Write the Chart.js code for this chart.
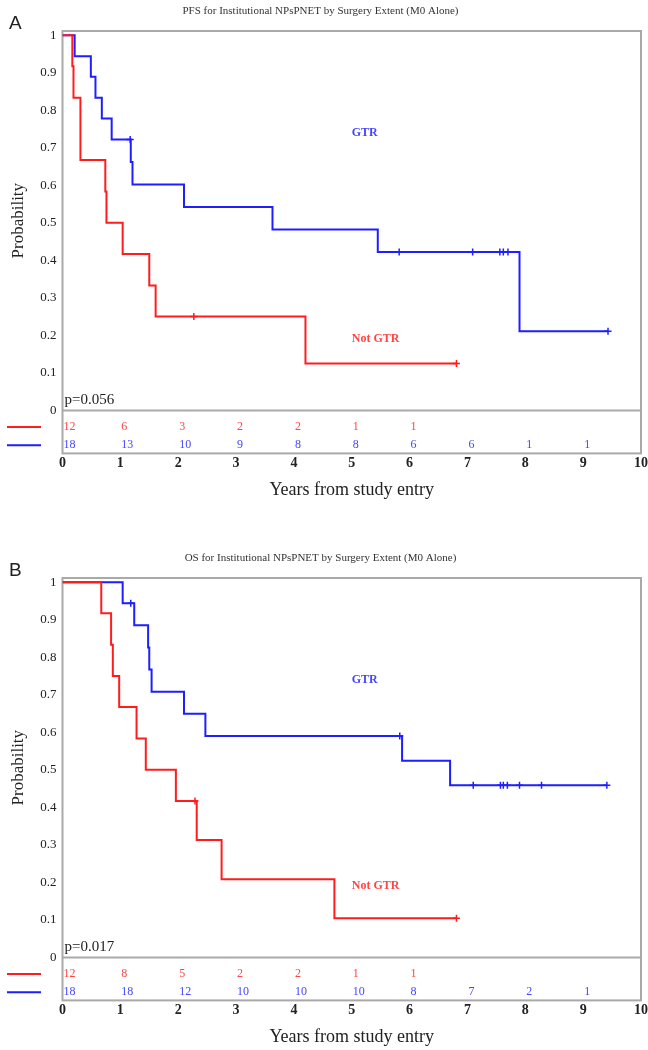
<!DOCTYPE html>
<html><head><meta charset="utf-8">
<script src="https://cdn.jsdelivr.net/npm/chart.js@4/dist/chart.umd.min.js"></script>
<style>
html,body{margin:0;padding:0;background:#fff;}
body{width:648px;height:1050px;position:relative;overflow:hidden;}
.panel{position:absolute;left:0;width:648px;height:502px;}
</style></head><body>
<div class="panel" style="top:0px"><canvas id="cA" width="648" height="502"></canvas></div>
<div class="panel" style="top:547px"><canvas id="cB" width="648" height="502"></canvas></div>
<script>
// ---------- shared axis values ----------
const xTickValues = [0,1,2,3,4,5,6,7,8,9,10];
const yTickValues = [0,0.1,0.2,0.3,0.4,0.5,0.6,0.7,0.8,0.9,1];
const yTickLabels = ['0','0.1','0.2','0.3','0.4','0.5','0.6','0.7','0.8','0.9','1'];
const riskTimes = [0,1,2,3,4,5,6,7,8,9];
const groupNames = ['Not GTR','GTR'];

// ---------- Panel A: PFS ----------
const pfsTitle = 'PFS for Institutional NPsPNET by Surgery Extent (M0 Alone)';
const pfsPValue = 'p=0.056';
const pfsNotGtrTimes  = [0, 0.17, 0.19, 0.31, 0.74, 0.76, 1.04, 1.50, 1.61, 4.20];
const pfsNotGtrSurv   = [1, 0.917, 0.833, 0.667, 0.583, 0.500, 0.417, 0.333, 0.250, 0.125];
const pfsNotGtrCensor = [2.27, 6.81];
const pfsNotGtrEnd = 6.81;
const pfsGtrTimes  = [0, 0.21, 0.49, 0.57, 0.68, 0.85, 1.18, 1.21, 2.10, 3.63, 5.45, 7.90];
const pfsGtrSurv   = [1, 0.944, 0.889, 0.833, 0.778, 0.722, 0.662, 0.602, 0.542, 0.482, 0.422, 0.211];
const pfsGtrCensor = [1.17, 5.82, 7.09, 7.56, 7.62, 7.70, 9.43];
const pfsGtrEnd = 9.43;
const pfsNotGtrRisk = [12,6,3,2,2,1,1];
const pfsGtrRisk    = [18,13,10,9,8,8,6,6,1,1];

// ---------- Panel B: OS ----------
const osTitle = 'OS for Institutional NPsPNET by Surgery Extent (M0 Alone)';
const osPValue = 'p=0.017';
const osNotGtrTimes  = [0, 0.67, 0.84, 0.87, 0.98, 1.28, 1.44, 1.96, 2.32, 2.75, 4.70];
const osNotGtrSurv   = [1, 0.917, 0.833, 0.750, 0.667, 0.583, 0.500, 0.417, 0.313, 0.208, 0.104];
const osNotGtrCensor = [2.29, 6.81];
const osNotGtrEnd = 6.81;
const osGtrTimes  = [0, 1.04, 1.24, 1.48, 1.50, 1.54, 2.10, 2.47, 5.87, 6.70];
const osGtrSurv   = [1, 0.944, 0.885, 0.826, 0.767, 0.708, 0.649, 0.590, 0.524, 0.459];
const osGtrCensor = [1.18, 5.83, 7.10, 7.57, 7.62, 7.69, 7.90, 8.28, 9.41];
const osGtrEnd = 9.41;
const osNotGtrRisk = [12,8,5,2,2,1,1];
const osGtrRisk    = [18,18,12,10,10,10,8,7,2,1];

// ---------- styling ----------
const RED = 'rgb(255,28,28)';
const BLUE = 'rgb(30,30,255)';
const RED_TXT = 'rgb(255,70,70)';
const BLUE_TXT = 'rgb(70,70,255)';
const SERIF = "'Liberation Serif','Times New Roman',serif";
const SANS = "'Liberation Sans',Arial,sans-serif";
const BOX = '#a9a9a9';

function stepPoints(times, surv, end){
  const pts = times.map((t,i)=>({x:t, y:surv[i]}));
  pts.push({x:end, y:surv[surv.length-1]});
  return pts;
}
function survAt(times, surv, t){
  let s = surv[0];
  for(let i=0;i<times.length;i++){ if(times[i] <= t) s = surv[i]; }
  return s;
}
function censorPoints(times, surv, cens){
  return cens.map(t=>({x:t, y:survAt(times, surv, t)}));
}

const decoPlugin = {
  id: 'kmDeco',
  beforeDatasetsDraw(chart, args, o){
    const {ctx, chartArea:a} = chart;
    const tb = a.bottom + o.tableHeight;
    ctx.save();
    ctx.strokeStyle = BOX; ctx.lineWidth = 2;
    ctx.strokeRect(a.left, a.top, a.right-a.left, tb-a.top);
    ctx.beginPath(); ctx.moveTo(a.left, a.bottom); ctx.lineTo(a.right, a.bottom); ctx.stroke();
    ctx.restore();
  },
  afterDraw(chart, args, o){
    const {ctx, chartArea:a, scales:{x, y}} = chart;
    ctx.save();
    // panel letter
    ctx.fillStyle = '#222';
    ctx.font = '19px ' + SANS;
    ctx.textAlign = 'left'; ctx.textBaseline = 'alphabetic';
    ctx.fillText(o.letter, 9, 29);
    // p value
    ctx.font = '15px ' + SERIF;
    ctx.fillStyle = '#222';
    ctx.fillText(o.pText, a.left + 2, a.bottom - 6);
    // group labels
    ctx.font = 'bold 12px ' + SERIF;
    ctx.textBaseline = 'middle';
    o.labels.forEach(l=>{
      ctx.fillStyle = l.color;
      ctx.fillText(l.text, x.getPixelForValue(l.x), y.getPixelForValue(l.y));
    });
    // risk table
    ctx.font = '12px ' + SERIF;
    o.risk.forEach((r, ri)=>{
      const yy = a.bottom + o.rowOffsets[ri];
      ctx.fillStyle = r.txt;
      r.values.forEach((v,i)=>{
        ctx.fillText(String(v), x.getPixelForValue(riskTimes[i]) + 1, yy);
      });
      ctx.strokeStyle = r.color; ctx.lineWidth = 2;
      ctx.beginPath(); ctx.moveTo(7, yy); ctx.lineTo(41, yy); ctx.stroke();
    });
    ctx.restore();
  }
};

function makeChart(id, cfg){
  const ds = [
    {data: stepPoints(cfg.rT, cfg.rS, cfg.rEnd), borderColor: RED, borderWidth: 2, stepped: true, pointRadius: 0, fill: false},
    {data: stepPoints(cfg.bT, cfg.bS, cfg.bEnd), borderColor: BLUE, borderWidth: 2, stepped: true, pointRadius: 0, fill: false},
    {data: censorPoints(cfg.rT, cfg.rS, cfg.rC), showLine: false, pointStyle: 'cross', pointRadius: 3.5, pointBorderWidth: 1.5, pointBorderColor: RED, borderColor: RED},
    {data: censorPoints(cfg.bT, cfg.bS, cfg.bC), showLine: false, pointStyle: 'cross', pointRadius: 3.5, pointBorderWidth: 1.5, pointBorderColor: BLUE, borderColor: BLUE}
  ];
  return new Chart(document.getElementById(id), {
    type: 'line',
    data: {datasets: ds},
    plugins: [decoPlugin],
    options: {
      responsive: false, animation: false, devicePixelRatio: 1,
      layout: {padding: {left: 0, right: 7, top: 0, bottom: 0}},
      plugins: {
        legend: {display: false}, tooltip: {enabled: false},
        title: {display: true, text: cfg.title, color: '#333',
                font: {family: SERIF, size: 11, weight: 'normal'},
                padding: {top: 5, bottom: 12.8}},
        kmDeco: {
          letter: cfg.letter, pText: cfg.p, tableHeight: 43,
          rowOffsets: [16.6, 34.8],
          labels: [
            {text: groupNames[1], color: BLUE_TXT, x: 5.0, y: 0.74},
            {text: groupNames[0], color: RED_TXT, x: 5.0, y: 0.19}
          ],
          risk: [
            {values: cfg.rRisk, color: RED, txt: RED_TXT},
            {values: cfg.bRisk, color: BLUE, txt: BLUE_TXT}
          ]
        }
      },
      scales: {
        x: {
          type: 'linear', min: 0, max: 10,
          afterBuildTicks: s => { s.ticks = xTickValues.map(v=>({value: v})); },
          afterFit: s => { s.height = 91.6; },
          grid: {display: true, drawOnChartArea: false, drawTicks: true, tickLength: 45, tickColor: 'rgba(0,0,0,0)', color: 'rgba(0,0,0,0)'},
          border: {display: false},
          ticks: {padding: 0, color: '#222', font: {family: SERIF, size: 14, weight: 'bold'}, maxRotation: 0, autoSkip: false},
          title: {display: true, text: 'Years from study entry', color: '#222',
                  font: {family: SERIF, size: 18}, padding: {top: 0, bottom: 1}}
        },
        y: {
          type: 'linear', min: 0, max: 1.011,
          afterBuildTicks: s => { s.ticks = yTickValues.map(v=>({value: v})); },
          afterFit: s => { s.width = 62.5; },
          grid: {display: false, drawTicks: false}, border: {display: false},
          ticks: {padding: 6, color: '#222', font: {family: SERIF, size: 13},
                  callback: (v) => { const i = yTickValues.findIndex(t => Math.abs(t - v) < 1e-6); return i >= 0 ? yTickLabels[i] : ''; }},
          title: {display: true, text: 'Probability', color: '#222',
                  font: {family: SERIF, size: 17}, padding: {top: 8, bottom: 0}}
        }
      }
    }
  });
}

makeChart('cA', {
  title: pfsTitle, letter: 'A', p: pfsPValue,
  rT: pfsNotGtrTimes, rS: pfsNotGtrSurv, rC: pfsNotGtrCensor, rEnd: pfsNotGtrEnd,
  bT: pfsGtrTimes, bS: pfsGtrSurv, bC: pfsGtrCensor, bEnd: pfsGtrEnd,
  rRisk: pfsNotGtrRisk, bRisk: pfsGtrRisk
});
makeChart('cB', {
  title: osTitle, letter: 'B', p: osPValue,
  rT: osNotGtrTimes, rS: osNotGtrSurv, rC: osNotGtrCensor, rEnd: osNotGtrEnd,
  bT: osGtrTimes, bS: osGtrSurv, bC: osGtrCensor, bEnd: osGtrEnd,
  rRisk: osNotGtrRisk, bRisk: osGtrRisk
});
</script>
</body></html>
